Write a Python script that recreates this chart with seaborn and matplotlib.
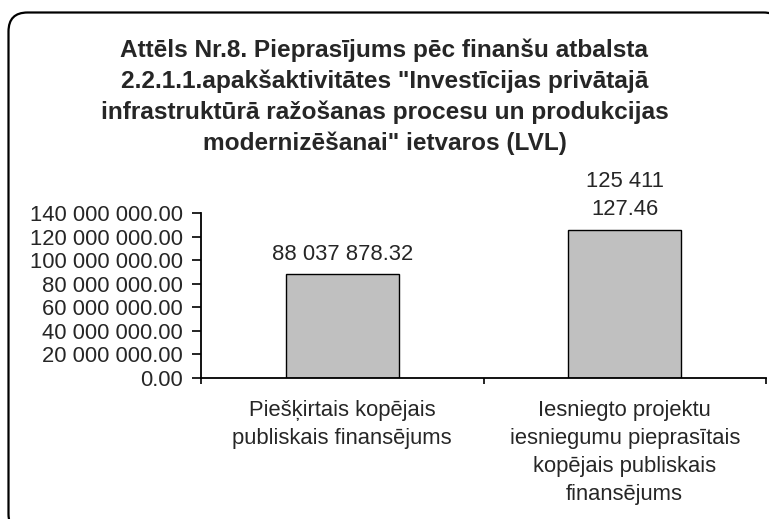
"""
Recreation of the Excel-style bar chart (Attēls Nr.8).
"""

import matplotlib
matplotlib.use("Agg")
import matplotlib.pyplot as plt
from matplotlib.patches import FancyBboxPatch
from matplotlib.transforms import IdentityTransform
import seaborn as sns
import pandas as pd

# Data
categories = [
    "Piešķirtais kopējais\npubliskais finansējums",
    "Iesniegto projektu\niesniegumu pieprasītais\nkopējais publiskais\nfinansējums",
]
values = [88037878.32, 125411127.46]
value_labels = ["88 037 878.32", "125 411\n127.46"]
y_ticks = [0, 20e6, 40e6, 60e6, 80e6, 100e6, 120e6, 140e6]
title = ('Attēls Nr.8. Pieprasījums pēc finanšu atbalsta\n'
         '2.2.1.1.apakšaktivitātes "Investīcijas privātajā\n'
         'infrastruktūrā ražošanas procesu un produkcijas\n'
         'modernizēšanai" ietvaros (LVL)')

sns.set_style("white")
plt.rcParams['font.family'] = ['Liberation Sans', 'DejaVu Sans']


def fmt_lv(v):
    # 140000000 -> "140 000 000.00"
    return f"{v:,.2f}".replace(",", " ")


def main():
    df = pd.DataFrame({"category": categories, "value": values})

    fig = plt.figure(figsize=(7.69, 5.19), dpi=100)
    ax = fig.add_axes([201 / 769, 141 / 519, 565 / 769, 165 / 519])

    sns.barplot(data=df, x="category", y="value", color="#C0C0C0",
                edgecolor="black", linewidth=1.0, width=0.4,
                saturation=1, ax=ax)

    ax.set_xlim(-0.5, 1.5)
    ax.set_ylim(0, 140e6)
    ax.set_yticks(y_ticks)
    ax.set_yticklabels([fmt_lv(t) for t in y_ticks], fontsize=15.8)
    ax.set_xlabel("")
    ax.set_ylabel("")

    # tick marks on category boundaries, labels drawn separately
    ax.set_xticks([])
    ax.set_xticks([-0.5, 0.5, 1.5], minor=True)
    ax.tick_params(axis="x", which="minor", bottom=True, length=4.5,
                   width=1.2, direction="out", color="black")
    ax.tick_params(axis="y", left=True, length=6.5, width=1.2,
                   direction="out", color="black", pad=6.5)

    for i, cat in enumerate(categories):
        ax.annotate(cat, (i, 0), xycoords=("data", "axes fraction"),
                    xytext=(0, -15.5), textcoords="offset points",
                    ha="center", va="top", fontsize=15.8,
                    multialignment="center", linespacing=1.44)

    for side in ["top", "right"]:
        ax.spines[side].set_visible(False)
    for side in ["left", "bottom"]:
        ax.spines[side].set_color("black")
        ax.spines[side].set_linewidth(1.3)

    # value labels over the bars
    for i, (v, txt) in enumerate(zip(values, value_labels)):
        ax.annotate(txt, (i, v), xytext=(0, 7), textcoords="offset points",
                    ha="center", va="bottom", fontsize=15.8,
                    linespacing=1.45)

    fig.text(0.5, 0.926, title, ha="center", va="top", fontsize=17.6,
             fontweight="bold", linespacing=1.41)

    # rounded chart border in pixels, running off the right and bottom edges
    # (filled white and kept behind the axes so Agg does not clip it to the canvas)
    border = FancyBboxPatch((8.5, -14), 774, 520.5,
                            boxstyle="round,pad=0,rounding_size=19",
                            transform=IdentityTransform(), fill=True,
                            facecolor="white", edgecolor="black",
                            linewidth=1.6, zorder=-1)
    fig.patches.append(border)

    fig.savefig("out.png", dpi=100)


if __name__ == "__main__":
    main()
